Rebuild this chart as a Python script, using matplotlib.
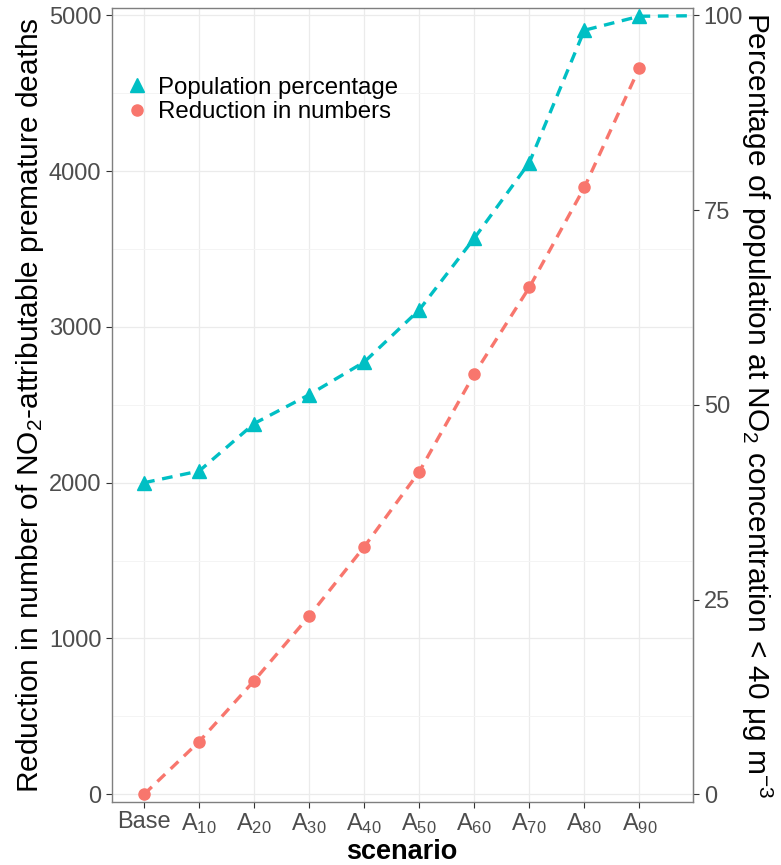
import numpy as np
import matplotlib
matplotlib.use('Agg')
import matplotlib.pyplot as plt
from matplotlib.lines import Line2D

# fuente tipo Arial
plt.rcParams['font.family'] = ['Liberation Sans', 'DejaVu Sans']
plt.rcParams['mathtext.fontset'] = 'custom'
plt.rcParams['mathtext.rm'] = 'Liberation Sans'
plt.rcParams['mathtext.it'] = 'Liberation Sans:italic'
plt.rcParams['mathtext.bf'] = 'Liberation Sans:bold'

# Datos
scenarios = ['Base', 'A$_{10}$', 'A$_{20}$', 'A$_{30}$', 'A$_{40}$',
             'A$_{50}$', 'A$_{60}$', 'A$_{70}$', 'A$_{80}$', 'A$_{90}$']
deaths_reduction = [0, 338, 729, 1144, 1589, 2071, 2698, 3254, 3896, 4664]
pop_pct = [40.0, 41.5, 47.6, 51.3, 55.5, 62.2, 71.4, 81.1, 98.1, 99.9]
pop_pct_tail = 100  # la linea sigue fuera del panel

scale = 50  # 100 % <-> 5000 muertes
c_red = '#F8766D'
c_cyan = '#00BFC4'
dash = (0, (3.2, 2.3))

x = np.arange(len(scenarios))

W, H = 781, 865
fig = plt.figure(figsize=(W / 100, H / 100), dpi=100)
ax = fig.add_axes([0.143, 0.0732, 0.7447, 0.9172])

ax.set_xlim(-0.59, 9.98)
ax.set_ylim(-48, 5046)

# grid
ax.set_yticks(np.arange(0, 5001, 1000))
ax.set_yticks(np.arange(500, 5000, 1000), minor=True)
ax.set_xticks(x)
ax.set_xticklabels(scenarios)
ax.grid(True, which='major', color='#EBEBEB', lw=0.9)
ax.grid(True, which='minor', axis='y', color='#F4F4F4', lw=0.7)
ax.set_axisbelow(True)

# linea de poblacion (extendida hasta el borde)
pop_y = np.array(pop_pct) * scale
ax.plot(np.append(x, x[-1] + 1.5), np.append(pop_y, pop_pct_tail * scale),
        color=c_cyan, lw=2.4, ls=dash, zorder=3)
ax.plot(x, pop_y, ls='none', marker='^', ms=10, color=c_cyan, zorder=4)

ax.plot(x, deaths_reduction, color=c_red, lw=2.4, ls=dash, zorder=3)
ax.plot(x, deaths_reduction, ls='none', marker='o', ms=8, color=c_red, zorder=4)

for s in ax.spines.values():
    s.set_color('#7F7F7F')
    s.set_linewidth(1.0)

ax.tick_params(axis='both', which='major', labelsize=17, colors='#333333',
               labelcolor='#4D4D4D', length=4, width=0.8)
ax.tick_params(axis='y', which='minor', length=0)
ax.tick_params(axis='x', pad=3)

# eje secundario
ax2 = ax.secondary_yaxis('right', functions=(lambda v: v / scale, lambda v: v * scale))
ax2.set_yticks([0, 25, 50, 75, 100])
ax2.tick_params(labelsize=17, colors='#333333', labelcolor='#4D4D4D',
                length=4, width=0.8)
ax2.spines['right'].set_color('#7F7F7F')

# titulos de ejes
fig.text(30 / W, 1 - 405 / H,
         'Reduction in number of NO$_2$-attributable premature deaths',
         fontsize=21.5, rotation=90, ha='center', va='center')
fig.text(757 / W, 1 - 405 / H,
         'Percentage of population at NO$_2$ concentration < 40 μg m$^{-3}$',
         fontsize=21.5, rotation=270, ha='center', va='center')
fig.text(402 / W, 1 - 852 / H, 'scenario', fontsize=19.5, fontweight='bold',
         ha='center', va='center')

# leyenda
handles = [
    Line2D([], [], ls='none', marker='^', ms=10, color=c_cyan),
    Line2D([], [], ls='none', marker='o', ms=8, color=c_red),
]
ax.legend(handles, ['Population percentage', 'Reduction in numbers'],
          loc='upper left', bbox_to_anchor=(-0.01, 0.935), frameon=False,
          fontsize=17.3, handletextpad=0.25, handlelength=1.2,
          labelspacing=0.1, borderaxespad=0.3)

fig.savefig('out.png', dpi=100)
